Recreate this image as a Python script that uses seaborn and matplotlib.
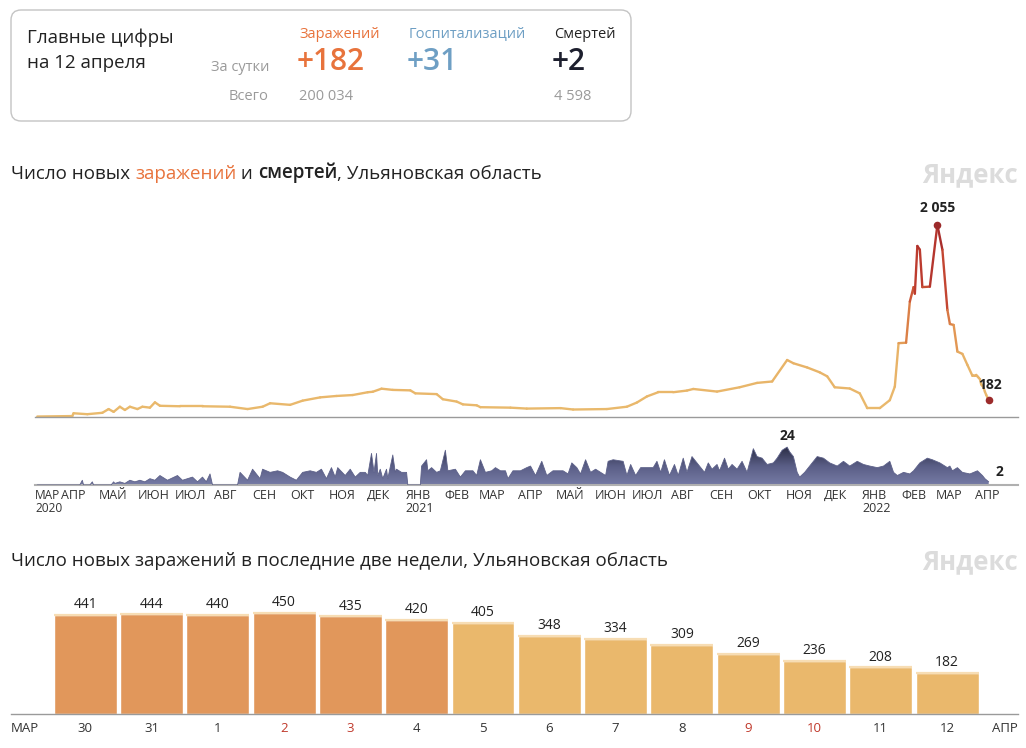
import numpy as np
import pandas as pd
import matplotlib
matplotlib.use('Agg')
import matplotlib.pyplot as plt
import seaborn as sns
from matplotlib.collections import LineCollection
from matplotlib.colors import LinearSegmentedColormap, Normalize
from matplotlib.patches import FancyBboxPatch

# all days are counted from 1 April 2020
case_days = [-19, 9, 10, 21, 33, 38, 42, 47, 51, 55, 61, 65, 71, 75, 79, 95, 113, 135, 149, 161,
             167, 183, 193, 207, 220, 233, 245, 249, 256, 265, 279, 283, 300, 305, 316, 321, 332, 335, 359, 372,
             399, 409, 436, 452, 460, 468, 477, 489, 500, 505, 524, 542, 556, 568, 580, 585, 596, 606, 612, 618,
             630, 638, 644, 654, 662, 666, 669, 675, 678, 681, 682, 684, 686, 688, 694, 700, 704, 708, 710, 713,
             716, 720, 724]
case_vals = [5, 10, 40, 30, 45, 85, 55, 110, 75, 110, 85, 110, 100, 157, 120, 115, 115, 110, 85, 110,
             147, 130, 175, 210, 225, 235, 265, 270, 303, 290, 285, 253, 245, 190, 165, 135, 125, 105, 100, 90,
             95, 80, 85, 110, 155, 220, 265, 265, 283, 300, 272, 318, 365, 380, 610, 575, 530, 478, 435, 318,
             305, 253, 95, 95, 180, 325, 790, 795, 1235, 1390, 1320, 1830, 1790, 1390, 1395, 2055, 1790, 1145, 995, 985,
             700, 675, 557]

death_days = [-19, 15, 17, 18, 23, 25, 26, 40, 42, 43, 47, 51, 55, 59, 63, 67, 71, 75, 79, 85,
              93, 97, 101, 105, 109, 113, 116, 119, 121, 141, 143, 149, 153, 159, 161, 167, 173, 177, 183, 188,
              193, 199, 204, 208, 212, 216, 219, 221, 227, 231, 235, 239, 243, 245, 248, 250, 252, 253, 255, 257,
              260, 261, 265, 267, 268, 272, 276, 277, 287, 288, 292, 293, 296, 300, 303, 307, 309, 315, 319, 323,
              329, 332, 335, 339, 344, 347, 351, 355, 357, 361, 367, 372, 375, 379, 384, 388, 393, 401, 405, 408,
              412, 415, 419, 423, 427, 431, 435, 437, 441, 449, 452, 455, 459, 463, 473, 476, 479, 482, 486, 490,
              493, 497, 500, 504, 508, 512, 514, 517, 520, 524, 526, 530, 533, 536, 540, 544, 548, 553, 556, 560,
              564, 569, 572, 576, 580, 582, 585, 588, 590, 594, 598, 604, 609, 614, 620, 625, 630, 636, 641, 646,
              652, 657, 662, 665, 668, 673, 678, 681, 686, 692, 696, 702, 708, 710, 712, 716, 720, 726, 732, 736,
              738, 741]
death_vals = [0, 0, 3, 0, 0, 2, 0, 0, 2, 1, 2, 1, 3, 2, 3, 2, 4, 3, 6, 3,
              6, 3, 4, 5, 2, 5, 2, 7, 0, 0, 8, 3, 10, 4, 10, 8, 9, 8, 5, 3,
              8, 9, 8, 10, 4, 11, 5, 11, 6, 10, 5, 8, 8, 6, 20, 8, 20, 6, 10, 4,
              10, 4, 19, 8, 10, 8, 8, 0, 0, 12, 16, 9, 11, 8, 9, 22, 9, 10, 5, 9,
              9, 6, 16, 8, 9, 11, 9, 9, 4, 9, 9, 11, 12, 6, 15, 6, 9, 9, 7, 14,
              11, 7, 16, 8, 10, 8, 6, 15, 16, 15, 6, 13, 6, 11, 11, 15, 8, 16, 6, 13,
              6, 17, 8, 18, 14, 10, 8, 14, 10, 13, 9, 17, 10, 13, 10, 15, 8, 23, 18, 17,
              13, 14, 17, 22, 24, 21, 18, 8, 5, 8, 12, 18, 17, 14, 12, 15, 12, 15, 13, 12,
              11, 12, 15, 8, 6, 8, 7, 9, 14, 17, 16, 14, 11, 12, 9, 11, 8, 7, 9, 6,
              4, 2]

bar_labels = ['30', '31', '1', '2', '3', '4', '5', '6', '7', '8', '9', '10', '11', '12']
bar_vals = [441, 444, 440, 450, 435, 420, 405, 348, 334, 309, 269, 236, 208, 182]
bar_week = ['prev'] * 6 + ['last'] * 8
weekend = ['2', '3', '9', '10']
bar_first_day = 728  # 30 March 2022

month_ru = {1: 'ЯНВ', 2: 'ФЕВ', 3: 'МАР', 4: 'АПР', 5: 'МАЙ', 6: 'ИЮН',
            7: 'ИЮЛ', 8: 'АВГ', 9: 'СЕН', 10: 'ОКТ', 11: 'НОЯ', 12: 'ДЕК'}

sns.set_theme(style='white')
plt.rcParams['font.family'] = ['Open Sans', 'DejaVu Sans']

W, H = 1026, 748
fig = plt.figure(figsize=(W / 100, H / 100), dpi=100)

def px_axes(left, top, right, bottom):
    return fig.add_axes([left / W, 1 - bottom / H, (right - left) / W, (bottom - top) / H])

# header panel, drawn in pixel coordinates
ax0 = fig.add_axes([0, 0, 1, 1])
ax0.set_xlim(0, W)
ax0.set_ylim(H, 0)
ax0.axis('off')
ax0.add_patch(FancyBboxPatch((11, 10), 620, 111, boxstyle='round,pad=0,rounding_size=10',
                             fc='white', ec='#c4c4c4', lw=1))
dark = '#222222'
grey = '#9a9a9a'
orange = '#e8733c'
blue = '#6e9fc4'
ax0.text(27, 38, 'Главные цифры', fontsize=13.5, color=dark, va='center')
ax0.text(27, 63, 'на 12 апреля', fontsize=13.5, color=dark, va='center')
ax0.text(269, 67, 'За сутки', fontsize=10.5, color=grey, va='center', ha='right')
ax0.text(269, 96, 'Всего', fontsize=10.5, color=grey, va='center', ha='right')
ax0.text(299, 34, 'Заражений', fontsize=10.5, color=orange, va='center')
ax0.text(409, 34, 'Госпитализаций', fontsize=10.5, color=blue, va='center')
ax0.text(554, 34, 'Смертей', fontsize=10.5, color=dark, va='center')
ax0.text(297, 62, '+182', fontsize=21.5, color=orange, va='center', weight='semibold')
ax0.text(407, 62, '+31', fontsize=21.5, color=blue, va='center', weight='semibold')
ax0.text(552, 62, '+2', fontsize=21.5, color='#1d1f2e', va='center', weight='semibold')
ax0.text(299, 96, '200 034', fontsize=10.5, color=grey, va='center')
ax0.text(554, 96, '4 598', fontsize=10.5, color=grey, va='center')

# titles, the first one in several colours
t = ax0.text(11, 174, 'Число новых ', fontsize=13.5, color=dark, va='center')
parts = [('заражений', orange, 'normal'), (' и ', dark, 'normal'), ('смертей', dark, 'semibold'),
         (', Ульяновская область', dark, 'normal')]
for txt, col, w in parts:
    t = ax0.annotate(txt, xy=(1, 0), xycoords=t, va='bottom', ha='left',
                     fontsize=13.5, color=col, weight=w)
ax0.text(11, 561, 'Число новых заражений в последние две недели, Ульяновская область',
         fontsize=13.5, color=dark, va='center')
for y in (175, 562):
    ax0.text(1018, y, 'Яндекс', fontsize=18.5, color='#dcdcdc', va='center', ha='right', weight='bold')

# new cases line
all_days = case_days + list(range(bar_first_day, bar_first_day + len(bar_vals)))
all_vals = case_vals + bar_vals
xmin, xmax = -20.8, 764.4

axc = px_axes(35, 200, 1018, 417)
pts = np.column_stack([all_days, all_vals]).astype(float)
segs = np.stack([pts[:-1], pts[1:]], axis=1)
case_cmap = LinearSegmentedColormap.from_list('cases', [
    (0, '#e9ba6d'), (0.3, '#e8b267'), (0.45, '#df8d4c'), (0.6, '#d0623b'), (0.75, '#bf3d2f'), (1, '#a2292b')])
lc = LineCollection(segs, cmap=case_cmap, norm=Normalize(0, max(all_vals)), lw=1.7,
                    capstyle='round', joinstyle='round')
lc.set_array((pts[:-1, 1] + pts[1:, 1]) / 2)
axc.add_collection(lc)
peak = int(np.argmax(all_vals))
for i in (peak, len(all_vals) - 1):
    axc.scatter(all_days[i], all_vals[i], s=30, color='#9c2b2b', zorder=5, lw=0)
axc.annotate('2 055', (all_days[peak], all_vals[peak]), xytext=(0, 7), textcoords='offset points',
             ha='center', va='bottom', fontsize=10, weight='bold', color=dark)
axc.annotate(str(all_vals[-1]), (all_days[-1], all_vals[-1]), xytext=(1, 6), textcoords='offset points',
             ha='center', va='bottom', fontsize=10, weight='bold', color=dark)
axc.set_xlim(xmin, xmax)
axc.set_ylim(0, 2322)
axc.set_xticks([])
axc.set_yticks([])
sns.despine(ax=axc, left=True)
axc.spines['bottom'].set_color('#9a9a9a')
axc.spines['bottom'].set_linewidth(1)

# new deaths area with a vertical gradient
axd = px_axes(35, 440, 1018, 485)
deaths = pd.DataFrame({'day': death_days, 'deaths': death_vals})
poly = axd.fill_between(deaths['day'], deaths['deaths'], 0, color='none', lw=0)
death_cmap = LinearSegmentedColormap.from_list('deaths', ['#767ba5', '#5a5e86', '#2b2d45'])
img = axd.imshow(np.linspace(0, 1, 256).reshape(-1, 1), extent=(xmin, xmax, 0, 24), origin='lower',
                 aspect='auto', cmap=death_cmap, zorder=2)
img.set_clip_path(poly.get_paths()[0], axd.transData)
sns.lineplot(data=deaths, x='day', y='deaths', ax=axd, color='#5d6189', lw=0.6, zorder=3)
dpeak = int(np.argmax(death_vals))
axd.annotate(str(death_vals[dpeak]), (death_days[dpeak], death_vals[dpeak]), xytext=(0, 3),
             textcoords='offset points', ha='center', va='bottom', fontsize=10, weight='bold', color=dark)
axd.annotate(str(death_vals[-1]), (death_days[-1], death_vals[-1]), xytext=(5, 2),
             textcoords='offset points', ha='left', va='bottom', fontsize=10, weight='bold', color=dark)
axd.set_xlim(xmin, xmax)
axd.set_ylim(0, 28.5)
axd.set_ylabel('')
axd.set_xlabel('')
axd.set_yticks([])
sns.despine(ax=axd, left=True)
axd.spines['bottom'].set_color('#b0b0b0')
axd.spines['bottom'].set_linewidth(1.5)

start = pd.Timestamp('2020-04-01')
months = pd.date_range('2020-04-01', '2022-04-01', freq='MS')
ticks = [-20.7] + [(m - start).days for m in months]
labels = ['МАР\n2020'] + [month_ru[m.month] + ('\n' + str(m.year) if m.month == 1 else '') for m in months]
axd.set_xticks(ticks)
axd.set_xticklabels(labels, ha='left', fontsize=9, color='#333333', linespacing=0.95)
axd.tick_params(axis='x', length=0, pad=3)
axd.get_xticklabels()[0].set_fontsize(8.6)

# last two weeks bars
axb = px_axes(11, 600, 1018, 714)
bars = pd.DataFrame({'day': bar_labels, 'cases': bar_vals, 'week': bar_week})
sns.barplot(data=bars, x='day', y='cases', hue='week', palette={'prev': '#e1975b', 'last': '#eab86c'},
            dodge=False, width=0.95, saturation=1, legend=False, ax=axb)
pos = np.arange(len(bar_vals))
axb.hlines(bar_vals, pos - 0.475, pos + 0.475, colors='#f7ddb4', lw=1.6, zorder=4)
for i, v in enumerate(bar_vals):
    axb.annotate(str(v), (i, v), xytext=(0, 2), textcoords='offset points',
                 ha='center', va='bottom', fontsize=10, color=dark)
axb.set_xlim(-1.12, 14.07)
axb.set_ylim(0, 508)
axb.set_xlabel('')
axb.set_ylabel('')
axb.set_yticks([])
axb.tick_params(axis='x', length=0, pad=6, labelsize=9.5)
for lab in axb.get_xticklabels():
    lab.set_color('#c0392b' if lab.get_text() in weekend else '#333333')
for x, txt, ha in ((0, 'МАР', 'left'), (1, 'АПР', 'right')):
    axb.annotate(txt, xy=(x, 0), xycoords='axes fraction', xytext=(0, -6), textcoords='offset points',
                 ha=ha, va='top', fontsize=9.5, color='#333333')
sns.despine(ax=axb, left=True)
axb.spines['bottom'].set_color('#9a9a9a')
axb.spines['bottom'].set_linewidth(1)

fig.savefig('out.png', dpi=100)
